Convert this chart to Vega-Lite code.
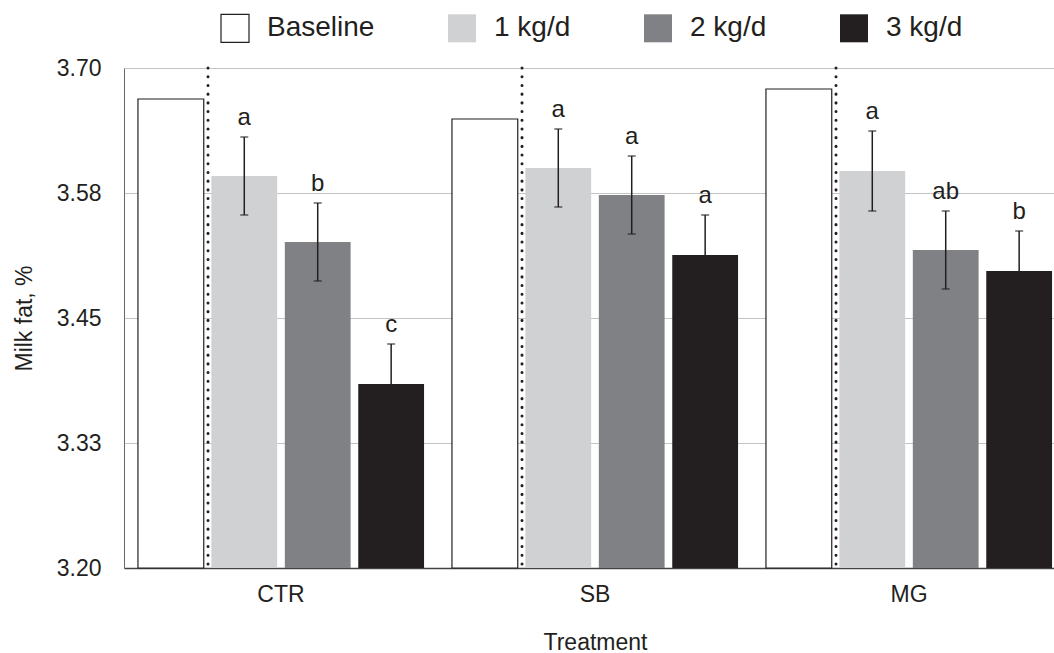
{
  "$schema": "https://vega.github.io/schema/vega-lite/v6.json",
  "width": 930,
  "height": 500,
  "autosize": {"type": "none"},
  "padding": {"left": 124, "top": 68, "right": 0, "bottom": 85},
  "background": "white",
  "config": {
    "font": "Liberation Sans",
    "view": {"stroke": null},
    "axis": {"labelFont": "Liberation Sans", "titleFont": "Liberation Sans", "labelColor": "#231f20", "titleColor": "#231f20", "titleFontWeight": "normal", "labelFontSize": 23, "titleFontSize": 23}
  },
  "data": {
    "values": [
      {"treatment": "CTR", "dose": "Baseline", "fat": 3.669},
      {"treatment": "CTR", "dose": "1 kg/d", "fat": 3.592, "lo": 3.553, "hi": 3.631, "letter": "a"},
      {"treatment": "CTR", "dose": "2 kg/d", "fat": 3.526, "lo": 3.487, "hi": 3.565, "letter": "b"},
      {"treatment": "CTR", "dose": "3 kg/d", "fat": 3.384, "lo": 3.344, "hi": 3.424, "letter": "c"},
      {"treatment": "SB", "dose": "Baseline", "fat": 3.649},
      {"treatment": "SB", "dose": "1 kg/d", "fat": 3.600, "lo": 3.561, "hi": 3.639, "letter": "a"},
      {"treatment": "SB", "dose": "2 kg/d", "fat": 3.573, "lo": 3.534, "hi": 3.612, "letter": "a"},
      {"treatment": "SB", "dose": "3 kg/d", "fat": 3.513, "lo": 3.473, "hi": 3.553, "letter": "a"},
      {"treatment": "MG", "dose": "Baseline", "fat": 3.679},
      {"treatment": "MG", "dose": "1 kg/d", "fat": 3.597, "lo": 3.557, "hi": 3.637, "letter": "a"},
      {"treatment": "MG", "dose": "2 kg/d", "fat": 3.518, "lo": 3.479, "hi": 3.557, "letter": "ab"},
      {"treatment": "MG", "dose": "3 kg/d", "fat": 3.497, "lo": 3.457, "hi": 3.537, "letter": "b"}
    ]
  },
  "encoding": {
    "x": {
      "field": "treatment", "type": "nominal", "sort": ["CTR", "SB", "MG"],
      "scale": {"paddingInner": 0, "paddingOuter": 0, "range": [0, 942]},
      "axis": {"title": "Treatment", "labelAngle": 0, "ticks": false, "domainColor": "#444444", "domainWidth": 1.5, "labelPadding": 15, "titlePadding": 25}
    }
  },
  "resolve": {"scale": {"xOffset": "independent"}},
  "layer": [
    {
      "layer": [
        {
          "mark": {"type": "bar", "strokeWidth": 1.2},
          "encoding": {
            "y": {
              "field": "fat", "type": "quantitative",
              "scale": {"domain": [3.2, 3.7], "zero": false, "nice": false},
              "axis": {
                "title": "Milk fat, %", "values": [3.2, 3.325, 3.45, 3.575, 3.7],
                "labelExpr": "format(datum.value + 0.0001, '.2f')",
                "ticks": false, "labelPadding": 23, "titlePadding": 20,
                "domainColor": "#666666", "domainWidth": 1,
                "gridColor": "#c4c4c4", "gridWidth": 1
              }
            },
            "y2": {"datum": 3.2},
            "fill": {
              "field": "dose", "type": "nominal", "sort": ["Baseline", "1 kg/d", "2 kg/d", "3 kg/d"],
              "scale": {"domain": ["Baseline", "1 kg/d", "2 kg/d", "3 kg/d"], "range": ["#ffffff", "#d0d1d3", "#808184", "#231f20"]},
              "legend": {
                "title": null, "orient": "none", "direction": "horizontal", "legendX": 96, "legendY": -55,
                "symbolType": "square", "symbolSize": 784, "symbolStrokeWidth": 1.2,
                "labelFontSize": 28, "labelFont": "Liberation Sans", "labelColor": "#231f20",
                "labelOffset": 17, "columnPadding": 70, "padding": 0
              }
            },
            "stroke": {
              "field": "dose", "type": "nominal", "sort": ["Baseline", "1 kg/d", "2 kg/d", "3 kg/d"],
              "scale": {"domain": ["Baseline", "1 kg/d", "2 kg/d", "3 kg/d"], "range": ["#231f20", "transparent", "transparent", "transparent"]},
              "legend": {
                "title": null, "orient": "none", "direction": "horizontal", "legendX": 96, "legendY": -55,
                "symbolType": "square", "symbolSize": 784, "symbolStrokeWidth": 1.2,
                "labelFontSize": 28, "labelFont": "Liberation Sans", "labelColor": "#231f20",
                "labelOffset": 17, "columnPadding": 70, "padding": 0
              }
            }
          }
        },
        {
          "transform": [{"filter": "datum.dose != 'Baseline'"}],
          "mark": {"type": "rule", "color": "#231f20", "strokeWidth": 1.5},
          "encoding": {
            "y": {"field": "lo", "type": "quantitative"},
            "y2": {"field": "hi"}
          }
        },
        {
          "transform": [{"filter": "datum.dose != 'Baseline'"}],
          "mark": {"type": "tick", "color": "#231f20", "thickness": 1.5, "size": 8},
          "encoding": {"y": {"field": "lo", "type": "quantitative"}}
        },
        {
          "transform": [{"filter": "datum.dose != 'Baseline'"}],
          "mark": {"type": "tick", "color": "#231f20", "thickness": 1.5, "size": 8},
          "encoding": {"y": {"field": "hi", "type": "quantitative"}}
        },
        {
          "transform": [{"filter": "datum.dose != 'Baseline'"}],
          "mark": {"type": "text", "baseline": "bottom", "dy": -7, "fontSize": 24, "font": "Liberation Sans", "color": "#231f20"},
          "encoding": {
            "y": {"field": "hi", "type": "quantitative"},
            "text": {"field": "letter"}
          }
        }
      ],
      "encoding": {
        "xOffset": {
          "field": "dose", "type": "nominal", "sort": ["Baseline", "1 kg/d", "2 kg/d", "3 kg/d"],
          "scale": {"paddingInner": 0.104, "paddingOuter": 0.19}
        }
      }
    },
    {
      "transform": [{"filter": "datum.dose == 'Baseline'"}],
      "mark": {"type": "rule", "color": "#231f20", "strokeWidth": 3, "strokeDash": [0.1, 8.6], "strokeCap": "round"},
      "encoding": {
        "xOffset": {"datum": "divider", "scale": {"domain": ["divider"], "paddingInner": 0, "paddingOuter": 1, "align": 0.1513}},
        "y": {"datum": 3.7},
        "y2": {"datum": 3.2}
      }
    }
  ]
}
